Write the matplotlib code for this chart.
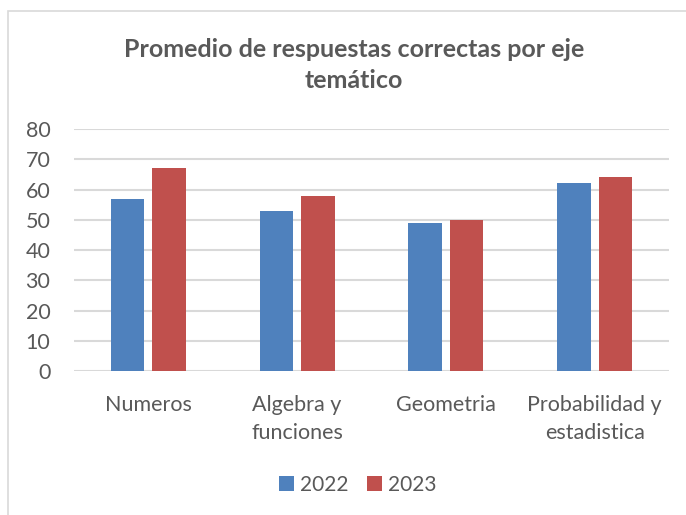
import matplotlib
matplotlib.use('Agg')
import matplotlib.pyplot as plt
import numpy as np
from matplotlib.patches import Rectangle

# -----------------------------
# Data
# -----------------------------
categories = ['Numeros', 'Algebra y\nfunciones', 'Geometria', 'Probabilidad y\nestadistica']
series_names = ['2022', '2023']
values_2022 = [57, 53, 49, 62]
values_2023 = [67, 58, 50, 64]
yticks = [0, 10, 20, 30, 40, 50, 60, 70, 80]

BLUE = '#4F81BD'
RED = '#C0504D'
TEXT = '#595959'
GRID = '#D9D9D9'

plt.rcParams['font.family'] = ['Lato', 'DejaVu Sans']

fig = plt.figure(figsize=(6.86, 5.15), dpi=100)
ax = fig.add_axes([0.1079, 0.2796, 0.8673, 0.4699])

x = np.arange(len(categories))
width = 0.225
offset = 0.14
ax.bar(x - offset, values_2022, width, color=BLUE, label=series_names[0], zorder=3)
ax.bar(x + offset, values_2023, width, color=RED, label=series_names[1], zorder=3)

ax.set_xlim(-0.5, len(categories) - 0.5)
ax.set_ylim(0, 80)
ax.set_yticks(yticks)
ax.set_xticks(x)
ax.set_xticklabels(categories, fontsize=15.5, color=TEXT, linespacing=1.55)
ax.tick_params(axis='x', length=0, pad=17)
ax.tick_params(axis='y', length=0, pad=17, labelsize=15.5, labelcolor=TEXT)
ax.yaxis.grid(True, color=GRID, linewidth=1.5, zorder=0)
for s in ax.spines.values():
    s.set_visible(False)

# chart border (partly cut off in the original)
fig.patches.append(Rectangle((8 / 686, -0.1), 1.2, (515 - 11) / 515 + 0.1,
                             transform=fig.transFigure, fill=False,
                             edgecolor=GRID, linewidth=1.2))

fig.text(354 / 686, 1 - 65 / 515, 'Promedio de respuestas correctas por eje\ntemático',
         ha='center', va='center', fontsize=18, fontweight='bold', color=TEXT,
         linespacing=1.45)

fig.legend(loc='center', bbox_to_anchor=(358 / 686, 1 - 485 / 515), ncol=2,
           frameon=False, fontsize=15, labelcolor=TEXT, handlelength=0.7,
           handleheight=0.7, handletextpad=0.3, columnspacing=0.9)

fig.savefig('out.png', dpi=100)
